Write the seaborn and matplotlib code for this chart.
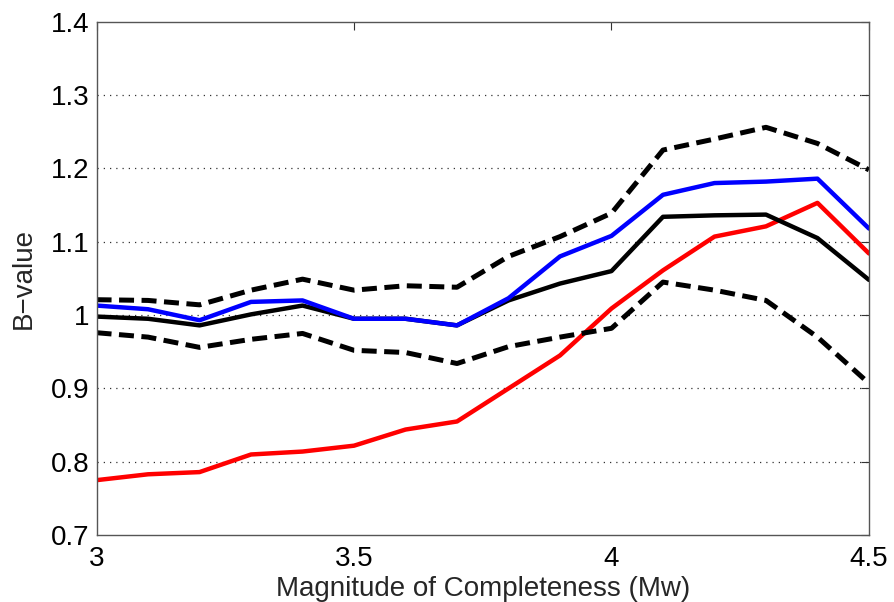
import matplotlib
matplotlib.use("Agg")
import matplotlib.pyplot as plt
import seaborn as sns
import pandas as pd

mc = [3.0, 3.1, 3.2, 3.3, 3.4, 3.5, 3.6, 3.7, 3.8, 3.9, 4.0, 4.1, 4.2, 4.3, 4.4, 4.5]
b_mean = [0.998, 0.995, 0.986, 1.001, 1.013, 0.995, 0.995, 0.986, 1.020, 1.043, 1.060, 1.134, 1.136, 1.137, 1.105, 1.048]
b_upper = [1.021, 1.020, 1.014, 1.034, 1.049, 1.034, 1.040, 1.038, 1.080, 1.107, 1.139, 1.225, 1.240, 1.256, 1.234, 1.198]
b_lower = [0.976, 0.970, 0.956, 0.967, 0.975, 0.952, 0.949, 0.934, 0.957, 0.970, 0.982, 1.045, 1.034, 1.020, 0.970, 0.907]
b_blue = [1.013, 1.008, 0.993, 1.018, 1.020, 0.995, 0.995, 0.986, 1.023, 1.080, 1.108, 1.164, 1.180, 1.182, 1.186, 1.118]
b_red = [0.775, 0.783, 0.786, 0.810, 0.814, 0.822, 0.844, 0.855, 0.900, 0.945, 1.009, 1.061, 1.107, 1.121, 1.153, 1.084]

x_ticks = [3, 3.5, 4, 4.5]
x_tick_labels = ["3", "3.5", "4", "4.5"]
y_ticks = [0.7, 0.8, 0.9, 1.0, 1.1, 1.2, 1.3, 1.4]
y_tick_labels = ["0.7", "0.8", "0.9", "1", "1.1", "1.2", "1.3", "1.4"]

sns.set_style("white")
plt.rcParams["font.family"] = ["Liberation Sans", "DejaVu Sans"]

fig = plt.figure(figsize=(8.94, 6.02), dpi=100)
ax = fig.add_axes([0.108, 0.111, 0.864, 0.853])

df = pd.DataFrame({"mc": mc, "mean": b_mean, "upper": b_upper,
                   "lower": b_lower, "blue": b_blue, "red": b_red})

dash = (0, (3.0, 1.5))
sns.lineplot(data=df, x="mc", y="red", color="#ff0000", lw=3.2, ax=ax)
sns.lineplot(data=df, x="mc", y="upper", color="black", lw=3.6, ax=ax, linestyle=dash)
sns.lineplot(data=df, x="mc", y="lower", color="black", lw=3.6, ax=ax, linestyle=dash)
sns.lineplot(data=df, x="mc", y="mean", color="black", lw=3.2, ax=ax)
sns.lineplot(data=df, x="mc", y="blue", color="#0000ff", lw=3.2, ax=ax)

ax.set_xlim(3, 4.5)
ax.set_ylim(0.7, 1.4)
ax.set_xticks(x_ticks)
ax.set_xticklabels(x_tick_labels)
ax.set_yticks(y_ticks)
ax.set_yticklabels(y_tick_labels)

for yv in y_ticks[1:-1]:
    ax.axhline(yv, color="#333333", lw=0.9, linestyle=(0, (1, 4)), zorder=0)

ax.tick_params(axis="both", direction="in", length=6, width=0.8, labelsize=20,
               top=True, right=True, colors="#333333", labelcolor="black")
ax.tick_params(axis="x", pad=8)
ax.tick_params(axis="y", pad=5)
for s in ax.spines.values():
    s.set_color("#555555")
    s.set_linewidth(1.0)
    s.set_visible(True)

ax.set_xlabel("Magnitude of Completeness (Mw)", fontsize=20, labelpad=3)
ax.set_ylabel("B\u2212value", fontsize=20, labelpad=10)

fig.savefig("out.png", dpi=100)
